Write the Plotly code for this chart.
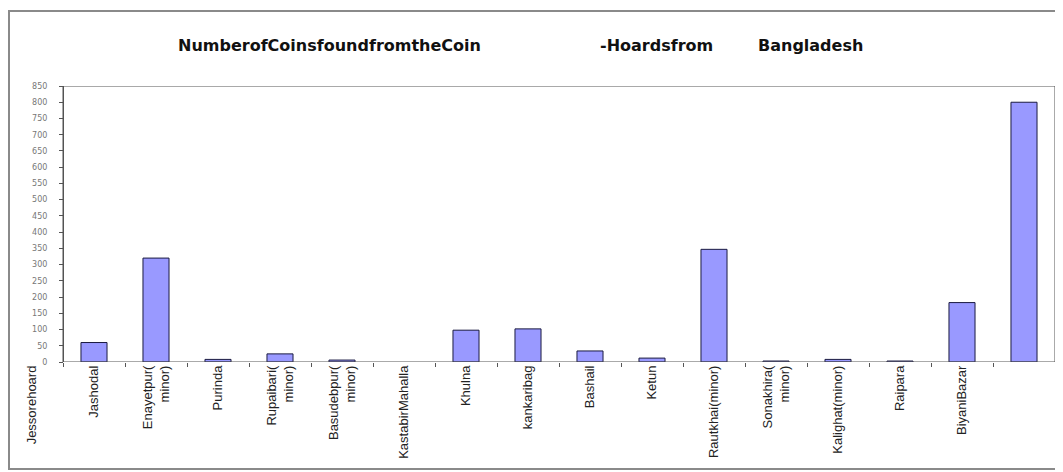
import plotly.graph_objects as go

# ---- data ----
hoards = ["Jessorehoard", "Jashodal", "Enayetpur(<br>minor)", "Purinda", "Rupaibari(<br>minor)",
          "Basudebpur(<br>minor)", "KastabirMahalla", "Khulna", "kankaribag", "Bashail", "Ketun",
          "Rautkhai(minor)", "Sonakhira(<br>minor)", "Kalighat(minor)", "Raipara", "BiyaniBazar"]
label_pos = list(range(0, 16))          # label slots on the category scale
bar_pos = list(range(1, 17))            # bars sit one slot to the right of their labels
coins = [60, 320, 8, 25, 6, 0, 98, 102, 34, 12, 347, 3, 8, 3, 183, 800]
y_ticks = list(range(0, 851, 50))
slot_edges = [i + 0.5 for i in range(0, 17)]

# page has an 8px body margin, so the figure is laid out in reference px minus 8
OFF = 8
W, Hh = 1063 - OFF, 472 - OFF
ML, MR = 20 - OFF, 8
MT = 86 - OFF
MB = Hh - (362 - OFF)
PW = W - ML - MR
PH = Hh - MT - MB


def px_x(px):  # reference-pixel x -> paper
    return (px - OFF - ML) / PW


def px_y(py):  # reference-pixel y -> paper
    return (Hh - MB - (py - OFF)) / PH


unit = (1055 - 63) / 16.0
x_left = 16.5 - PW / unit

fig = go.Figure()
fig.add_trace(go.Bar(
    x=bar_pos, y=coins,
    marker=dict(color="#9999FF",
                line=dict(color="#1a1a40", width=[1 if v > 0 else 0 for v in coins])),
    width=0.42, showlegend=False, hoverinfo="y",
))

fig.update_layout(
    width=W, height=Hh,
    margin=dict(l=ML, r=MR, t=MT, b=MB, autoexpand=False),
    paper_bgcolor="white", plot_bgcolor="white",
    showlegend=False,
    xaxis=dict(
        domain=[0, 1], range=[x_left, 16.5],
        showgrid=False, zeroline=False, showline=False,
        tickmode="array", tickvals=label_pos, ticktext=hoards, ticks="",
        tickangle=-90,
        tickfont=dict(family="Liberation Sans, Arial", size=13, color="#222222"),
        minor=dict(tickmode="array", tickvals=slot_edges, ticks="outside", ticklen=4,
                   tickcolor="#555555", showgrid=False),
        automargin=False,
    ),
    yaxis=dict(
        domain=[0, 1], range=[0, 850], anchor="free", position=px_x(63),
        showgrid=False, zeroline=False,
        showline=True, linecolor="#555555", linewidth=1,
        tickmode="array", tickvals=y_ticks, ticks="outside", ticklen=4,
        tickcolor="#555555", ticklabelstandoff=10,
        tickfont=dict(family="DejaVu Sans", size=8, color="#777777"),
        automargin=False,
    ),
)

# plot-area frame spanning the category slots
fig.add_shape(type="rect", xref="x", yref="y", x0=0.5, x1=16.5, y0=0, y1=850,
              line=dict(color="#555555", width=1))

title_font = dict(family="DejaVu Sans", size=16, color="#111111", weight="bold")
for text, px in [("NumberofCoinsfoundfromtheCoin", 176), ("-Hoardsfrom", 598), ("Bangladesh", 756)]:
    fig.add_annotation(
        text=text, xref="paper", yref="paper", x=px_x(px), y=px_y(45),
        xanchor="left", yanchor="middle", showarrow=False, font=title_font,
    )

# outer chart-area border
fig.add_shape(
    type="rect", xref="paper", yref="paper",
    x0=px_x(9), x1=px_x(1075), y0=px_y(469), y1=px_y(11),
    line=dict(color="#8a8a8a", width=2), layer="below",
)

fig.write_html("out.html")
